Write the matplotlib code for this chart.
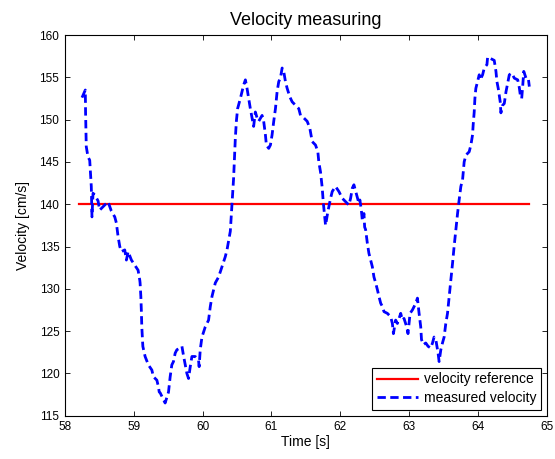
import matplotlib
matplotlib.use("Agg")
import matplotlib.pyplot as plt

plt.rcParams['font.family'] = ['Liberation Sans', 'DejaVu Sans']

title = "Velocity measuring"
xlabel = "Time [s]"
ylabel = "Velocity [cm/s]"
legend_labels = ["velocity reference", "measured velocity"]

ref_t = [58.21, 64.74]
ref_v = [140.0, 140.0]

t = [58.248, 58.296, 58.300, 58.310, 58.335, 58.360, 58.383, 58.393, 58.408, 58.433, 58.481, 58.505,
     58.553, 58.626, 58.674, 58.724, 58.747, 58.772, 58.797, 58.820, 58.869, 58.893, 58.918, 58.966,
     59.015, 59.063, 59.088,
     59.092, 59.103, 59.110, 59.117, 59.132, 59.165, 59.213, 59.263, 59.286, 59.336, 59.359, 59.370,
     59.384, 59.432, 59.456, 59.505, 59.529, 59.553, 59.577, 59.602, 59.627, 59.650, 59.700, 59.723,
     59.748, 59.772, 59.796, 59.821, 59.845, 59.893, 59.941, 59.950, 59.966, 59.991, 60.039, 60.087,
     60.112, 60.137, 60.185, 60.233, 60.282, 60.330, 60.355,
     60.403, 60.428, 60.451, 60.461, 60.476, 60.491, 60.509, 60.549, 60.597, 60.622, 60.646, 60.670,
     60.694, 60.719, 60.742, 60.767, 60.792, 60.815, 60.865, 60.888, 60.913, 60.927, 60.961, 60.986,
     61.010, 61.034, 61.059, 61.083, 61.107, 61.131, 61.156, 61.179, 61.204, 61.229, 61.267, 61.302,
     61.350, 61.398, 61.423, 61.471, 61.520, 61.558, 61.593, 61.641, 61.675, 61.689, 61.714, 61.739,
     61.753, 61.772, 61.787, 61.820, 61.860, 61.884, 61.932, 61.981, 62.030, 62.078, 62.126, 62.151,
     62.176, 62.199, 62.238, 62.272,
     62.286, 62.307, 62.321, 62.345, 62.355, 62.369, 62.394, 62.417, 62.442, 62.467, 62.490, 62.515,
     62.540, 62.563, 62.588, 62.613, 62.636, 62.685, 62.733, 62.758, 62.773, 62.806, 62.831, 62.879,
     62.904, 62.927, 62.966, 62.985, 63.015, 63.049, 63.098, 63.122, 63.146, 63.170, 63.181, 63.210,
     63.243, 63.277, 63.316, 63.341, 63.364, 63.389, 63.422, 63.437, 63.462, 63.486, 63.510, 63.534,
     63.559, 63.583, 63.607, 63.632, 63.655, 63.680, 63.705, 63.728, 63.753, 63.778,
     63.801, 63.826, 63.874, 63.899, 63.923, 63.932, 63.947, 63.957, 63.971, 63.996, 64.020, 64.034,
     64.069, 64.093, 64.132, 64.142, 64.190, 64.238, 64.263, 64.277, 64.296, 64.311, 64.325, 64.335,
     64.360, 64.384, 64.409, 64.433, 64.457, 64.492, 64.530, 64.579, 64.602, 64.617, 64.637, 64.652,
     64.667, 64.700, 64.733, 64.748]

v = [152.6, 153.5, 150.8, 146.8, 145.6, 145.2, 142.1, 138.5, 141.3, 141.1, 140.4, 139.3,
     139.7, 140.3, 139.2, 138.5, 137.8, 136.2, 135.0, 134.4, 134.6, 133.4, 134.4, 133.4,
     132.8, 132.2, 131.0,
     130.7, 129.1, 127.5, 125.5, 123.2, 122.0, 121.0, 120.4, 119.6, 119.2, 118.4, 117.8,
     117.7, 116.9, 116.5, 117.8, 119.6, 121.0, 121.4, 122.4, 122.8, 122.9, 123.2, 122.1,
     121.0, 120.0, 119.4, 120.8, 122.0, 122.0, 121.6, 120.8, 122.8, 124.3, 125.5, 126.3,
     127.9, 129.1, 130.7, 131.4, 132.6, 133.8, 134.6,
     136.8, 140.1, 143.1, 145.0, 147.8, 149.8, 151.3, 152.5, 154.1, 154.7, 153.7, 152.5,
     151.3, 150.2, 149.2, 150.9, 150.2, 149.8, 150.5, 149.8, 148.2, 147.0, 146.6, 147.0,
     148.2, 149.8, 151.3, 153.3, 154.5, 154.9, 156.1, 155.7, 154.5, 153.7, 152.7, 152.1,
     151.7, 151.3, 150.5, 150.2, 149.8, 149.0, 147.4, 147.0, 146.2, 145.0, 143.8, 141.9,
     140.3, 138.7, 137.5, 139.1, 140.7, 141.5, 142.1, 141.5, 140.7, 140.3, 139.9, 140.7,
     141.9, 142.3, 141.1, 140.1,
     140.5, 139.3, 138.1, 138.9, 137.3, 137.0, 135.4, 134.2, 133.4, 132.6, 131.4, 130.7,
     129.9, 129.1, 128.3, 127.9, 127.3, 127.1, 126.7, 125.9, 124.7, 126.3, 125.9, 127.1,
     126.3, 126.5, 125.5, 124.7, 127.1, 127.5, 128.3, 128.9, 127.1, 125.5, 124.0, 123.4,
     123.6, 123.2, 123.0, 123.6, 124.3, 124.0, 122.4, 121.4, 122.8, 123.6, 124.3, 125.9,
     127.1, 129.1, 131.0, 133.0, 135.0, 137.0, 138.9, 140.5, 142.1, 142.9,
     145.0, 145.8, 146.2, 147.0, 148.2, 149.4, 150.9, 152.5, 153.7, 154.5, 155.3, 154.7,
     155.3, 156.1, 156.5, 157.4, 157.2, 157.0, 155.7, 154.5, 153.7, 152.9, 152.1, 150.8,
     151.7, 151.9, 153.3, 154.3, 155.3, 155.5, 154.9, 154.7, 153.8, 152.9, 152.5, 154.0,
     155.7, 154.9, 154.9, 153.9]

xticks = [58, 59, 60, 61, 62, 63, 64, 65]
yticks = [115, 120, 125, 130, 135, 140, 145, 150, 155, 160]

fig = plt.figure(figsize=(5.55, 4.59), dpi=100)
ax = fig.add_axes([0.117, 0.0943, 0.868, 0.8294])

ax.plot(ref_t, ref_v, color='#ff0000', linewidth=1.6, label=legend_labels[0])
ax.plot(t, v, color='#0000ff', linewidth=2.0, linestyle=(0, (3.0, 1.6)), label=legend_labels[1])

ax.set_xlim(58, 65)
ax.set_ylim(115, 160)
ax.set_xticks(xticks)
ax.set_yticks(yticks)
ax.tick_params(direction='in', top=True, right=True, length=3.5, width=0.6,
               labelsize=8.5, pad=4)
for s in ax.spines.values():
    s.set_linewidth(0.8)

ax.set_title(title, fontsize=13, pad=7)
ax.set_xlabel(xlabel, fontsize=10, labelpad=1)
ax.set_ylabel(ylabel, fontsize=10, labelpad=7)

leg = ax.legend(loc='lower right', fontsize=10, fancybox=False, framealpha=1,
                edgecolor='black', borderaxespad=0.4, handlelength=3.0,
                borderpad=0.35, labelspacing=0.35, handletextpad=0.4)
leg.get_frame().set_linewidth(0.8)

fig.savefig("out.png", dpi=100)
